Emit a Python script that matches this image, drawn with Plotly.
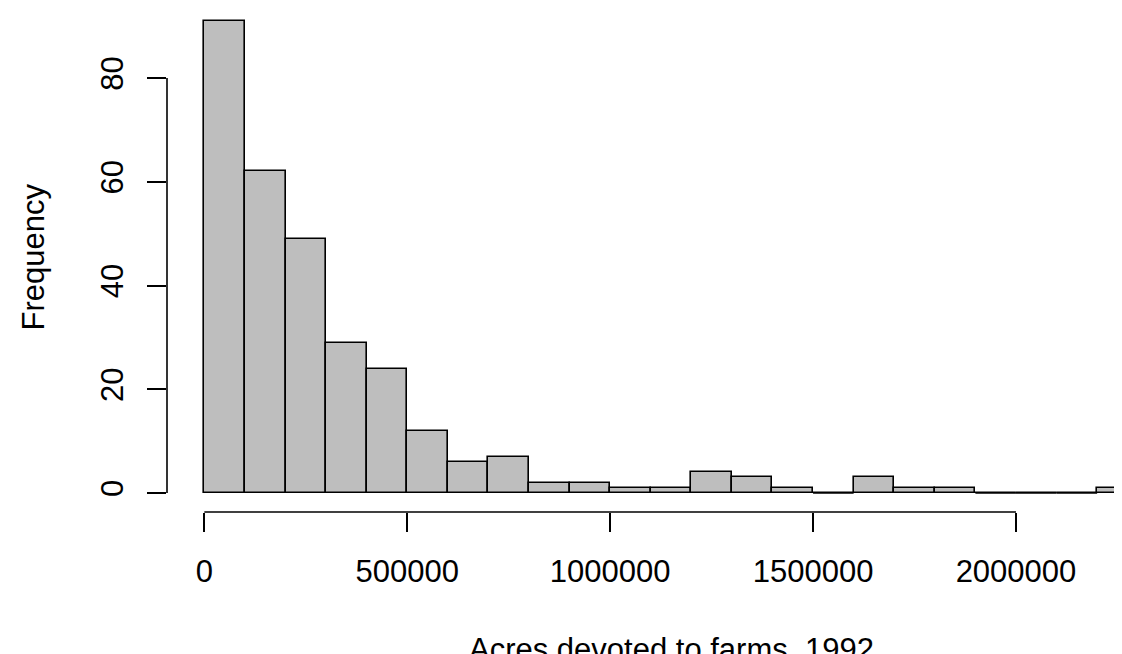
import plotly.graph_objects as go

# ---- data ----
bin_starts = [0, 100000, 200000, 300000, 400000, 500000, 600000, 700000, 800000,
              900000, 1000000, 1100000, 1200000, 1300000, 1400000, 1500000,
              1600000, 1700000, 1800000, 1900000, 2000000, 2100000, 2200000]
counts = [91, 62, 49, 29, 24, 12, 6, 7, 2, 2, 1, 1, 4, 3, 1, 0, 3, 1, 1, 0, 0, 0, 1]
bin_width = 100000

x_ticks = [0, 500000, 1000000, 1500000, 2000000]
x_tick_labels = ["0", "500000", "1000000", "1500000", "2000000"]
y_ticks = [0, 20, 40, 60, 80]
y_tick_labels = ["0", "20", "40", "60", "80"]

x_title = "Acres devoted to farms, 1992"
y_title = "Frequency"

FONT = "Liberation Sans, Arial, Helvetica, sans-serif"
FS = 31
LW = 1.6

centers = [s + bin_width / 2 for s in bin_starts]

fig = go.Figure()
fig.add_trace(go.Bar(
    x=centers, y=counts, width=bin_width,
    marker=dict(color="#BEBEBE", line=dict(color="black", width=LW)),
    hoverinfo="x+y", showlegend=False,
))

# zero-height bins: R still draws their outline along the baseline
zx, zy = [], []
for s, c in zip(bin_starts, counts):
    if c == 0:
        zx += [s, s + bin_width, None]
        zy += [0, 0, None]
fig.add_trace(go.Scatter(x=zx, y=zy, mode="lines",
                         line=dict(color="black", width=LW),
                         hoverinfo="skip", showlegend=False))

# axis lines spanning only the tick range (R style)
fig.add_shape(type="line", xref="paper", yref="y", x0=0, x1=0,
              y0=y_ticks[0], y1=y_ticks[-1], line=dict(color="black", width=LW))
fig.add_shape(type="line", xref="x", yref="paper", x0=x_ticks[0], x1=x_ticks[-1],
              y0=0, y1=0, line=dict(color="black", width=LW))

# R-style 4% range extension; the title is centred on R's full plot region
span = bin_starts[-1] + bin_width - bin_starts[0]
x_left = bin_starts[0] - 0.04 * span
x_right_full = bin_starts[-1] + bin_width + 0.04 * span

fig.add_annotation(text=x_title, xref="x", yref="paper",
                   x=(x_left + x_right_full) / 2, y=0, yshift=-118,
                   xanchor="center", yanchor="top", showarrow=False,
                   font=dict(family=FONT, size=FS, color="black"))
fig.add_annotation(text=y_title, xref="paper", yref="y",
                   x=0, xshift=-114, y=45.5, textangle=-90,
                   xanchor="right", yanchor="middle", showarrow=False,
                   font=dict(family=FONT, size=FS, color="black"))

fig.update_layout(
    width=1122, height=654,
    margin=dict(l=159, r=0, t=0, b=150),
    paper_bgcolor="white", plot_bgcolor="white",
    bargap=0,
    font=dict(family=FONT, size=FS, color="black"),
    xaxis=dict(range=[x_left, 2281000], tickvals=x_ticks, ticktext=x_tick_labels,
               ticks="outside", ticklen=19, tickwidth=LW, tickcolor="black",
               showline=False, showgrid=False, zeroline=False,
               ticklabelstandoff=13,
               tickfont=dict(family=FONT, size=FS, color="black")),
    yaxis=dict(range=[-3.66, 93.5], tickvals=y_ticks, ticktext=y_tick_labels,
               ticks="outside", ticklen=19, tickwidth=LW, tickcolor="black",
               showline=False, showgrid=False, zeroline=False,
               tickangle=-90, ticklabelstandoff=12,
               tickfont=dict(family=FONT, size=FS, color="black")),
)

fig.write_html("out.html")
